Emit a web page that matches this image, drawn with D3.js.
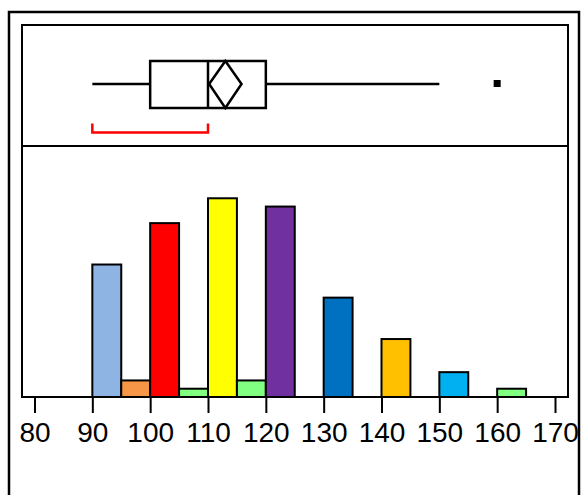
<!DOCTYPE html>
<html>
<head>
<meta charset="utf-8">
<script src="https://cdn.jsdelivr.net/npm/d3@7"></script>
<style>
  body { margin: 0; background: #fff; }
  text { font-family: "Liberation Sans", Arial, sans-serif; }
</style>
</head>
<body>
<script>
// histogram bins (lower edge, width 5) and counts
const binStarts = [90, 95, 100, 105, 110, 115, 120, 130, 140, 150, 160]
const counts = [16, 2, 21, 1, 24, 2, 23, 12, 7, 3, 1]
const barColors = ['#8EB4E3', '#F79646', '#FF0000', '#80FF80', '#FFFF00', '#80FF80',
  '#7030A0', '#0070C0', '#FFC000', '#00B0F0', '#80FF80']
const binWidth = 5

// outlier box plot summary
const whiskerLo = 90, q1 = 100, median = 110, q3 = 120, whiskerHi = 150
const meanVal = 113, meanCI = [110.2, 115.8]
const outliers = [160]
const shortest = [90, 110]

const tickValues = [80, 90, 100, 110, 120, 130, 140, 150, 160, 170]

const W = 582, H = 495
const svg = d3.select('body').append('svg')
  .attr('width', W)
  .attr('height', H)

const x = d3.scaleLinear().domain([80, 170]).range([34.5, 555])
const y = d3.scaleLinear().domain([0, 30]).range([397, 148.6])

// frames
svg.append('rect')
  .attr('x', 9).attr('y', 12).attr('width', 570).attr('height', 500)
  .attr('fill', 'none').attr('stroke', '#000').attr('stroke-width', 2.5)
svg.append('rect')
  .attr('x', 22).attr('y', 25).attr('width', 546).attr('height', 372)
  .attr('fill', 'none').attr('stroke', '#000').attr('stroke-width', 2)
svg.append('line')
  .attr('x1', 22).attr('x2', 568).attr('y1', 146).attr('y2', 146)
  .attr('stroke', '#000').attr('stroke-width', 2)

// histogram
svg.selectAll('rect.bar')
  .data(binStarts)
  .enter()
  .append('rect')
  .attr('class', 'bar')
  .attr('x', d => x(d))
  .attr('width', d => x(d + binWidth) - x(d))
  .attr('y', (d, i) => y(counts[i]))
  .attr('height', (d, i) => y(0) - y(counts[i]))
  .attr('fill', (d, i) => barColors[i])
  .attr('stroke', '#000')
  .attr('stroke-width', 2)

// axis
const axis = d3.axisBottom(x).tickValues(tickValues).tickSize(16).tickSizeOuter(0)
const gAxis = svg.append('g')
  .attr('transform', 'translate(0,397)')
  .call(axis)
gAxis.select('.domain').remove()
gAxis.selectAll('line').attr('stroke', '#000').attr('stroke-width', 2)
gAxis.selectAll('text')
  .attr('y', 25)
  .attr('fill', '#000')
  .style('font-size', '28px')
  .style('font-family', '"Liberation Sans", Arial, sans-serif')

// box plot
const cy = 84, boxTop = 61, boxBot = 108
const bp = svg.append('g')
  .attr('stroke', '#000')
  .attr('stroke-width', 2.5)
  .attr('fill', 'none')
bp.append('line').attr('x1', x(whiskerLo)).attr('x2', x(q1)).attr('y1', cy).attr('y2', cy)
bp.append('line').attr('x1', x(q3)).attr('x2', x(whiskerHi)).attr('y1', cy).attr('y2', cy)
bp.append('rect')
  .attr('x', x(q1)).attr('y', boxTop)
  .attr('width', x(q3) - x(q1)).attr('height', boxBot - boxTop)
bp.append('line').attr('x1', x(median)).attr('x2', x(median)).attr('y1', boxTop).attr('y2', boxBot)
bp.append('path')
  .attr('d', `M${x(meanCI[0])},${cy} L${x(meanVal)},${boxTop} L${x(meanCI[1])},${cy} L${x(meanVal)},${boxBot} Z`)

svg.selectAll('rect.outlier')
  .data(outliers)
  .enter()
  .append('rect')
  .attr('class', 'outlier')
  .attr('x', d => x(d) - 3.5)
  .attr('y', cy - 4)
  .attr('width', 7).attr('height', 7)
  .attr('fill', '#000')

// shortest half bracket
const by = 132.5
svg.append('path')
  .attr('d', `M${x(shortest[0])},${by - 9} V${by} H${x(shortest[1])} V${by - 9}`)
  .attr('fill', 'none')
  .attr('stroke', '#FF0000')
  .attr('stroke-width', 2.5)
</script>
</body>
</html>
